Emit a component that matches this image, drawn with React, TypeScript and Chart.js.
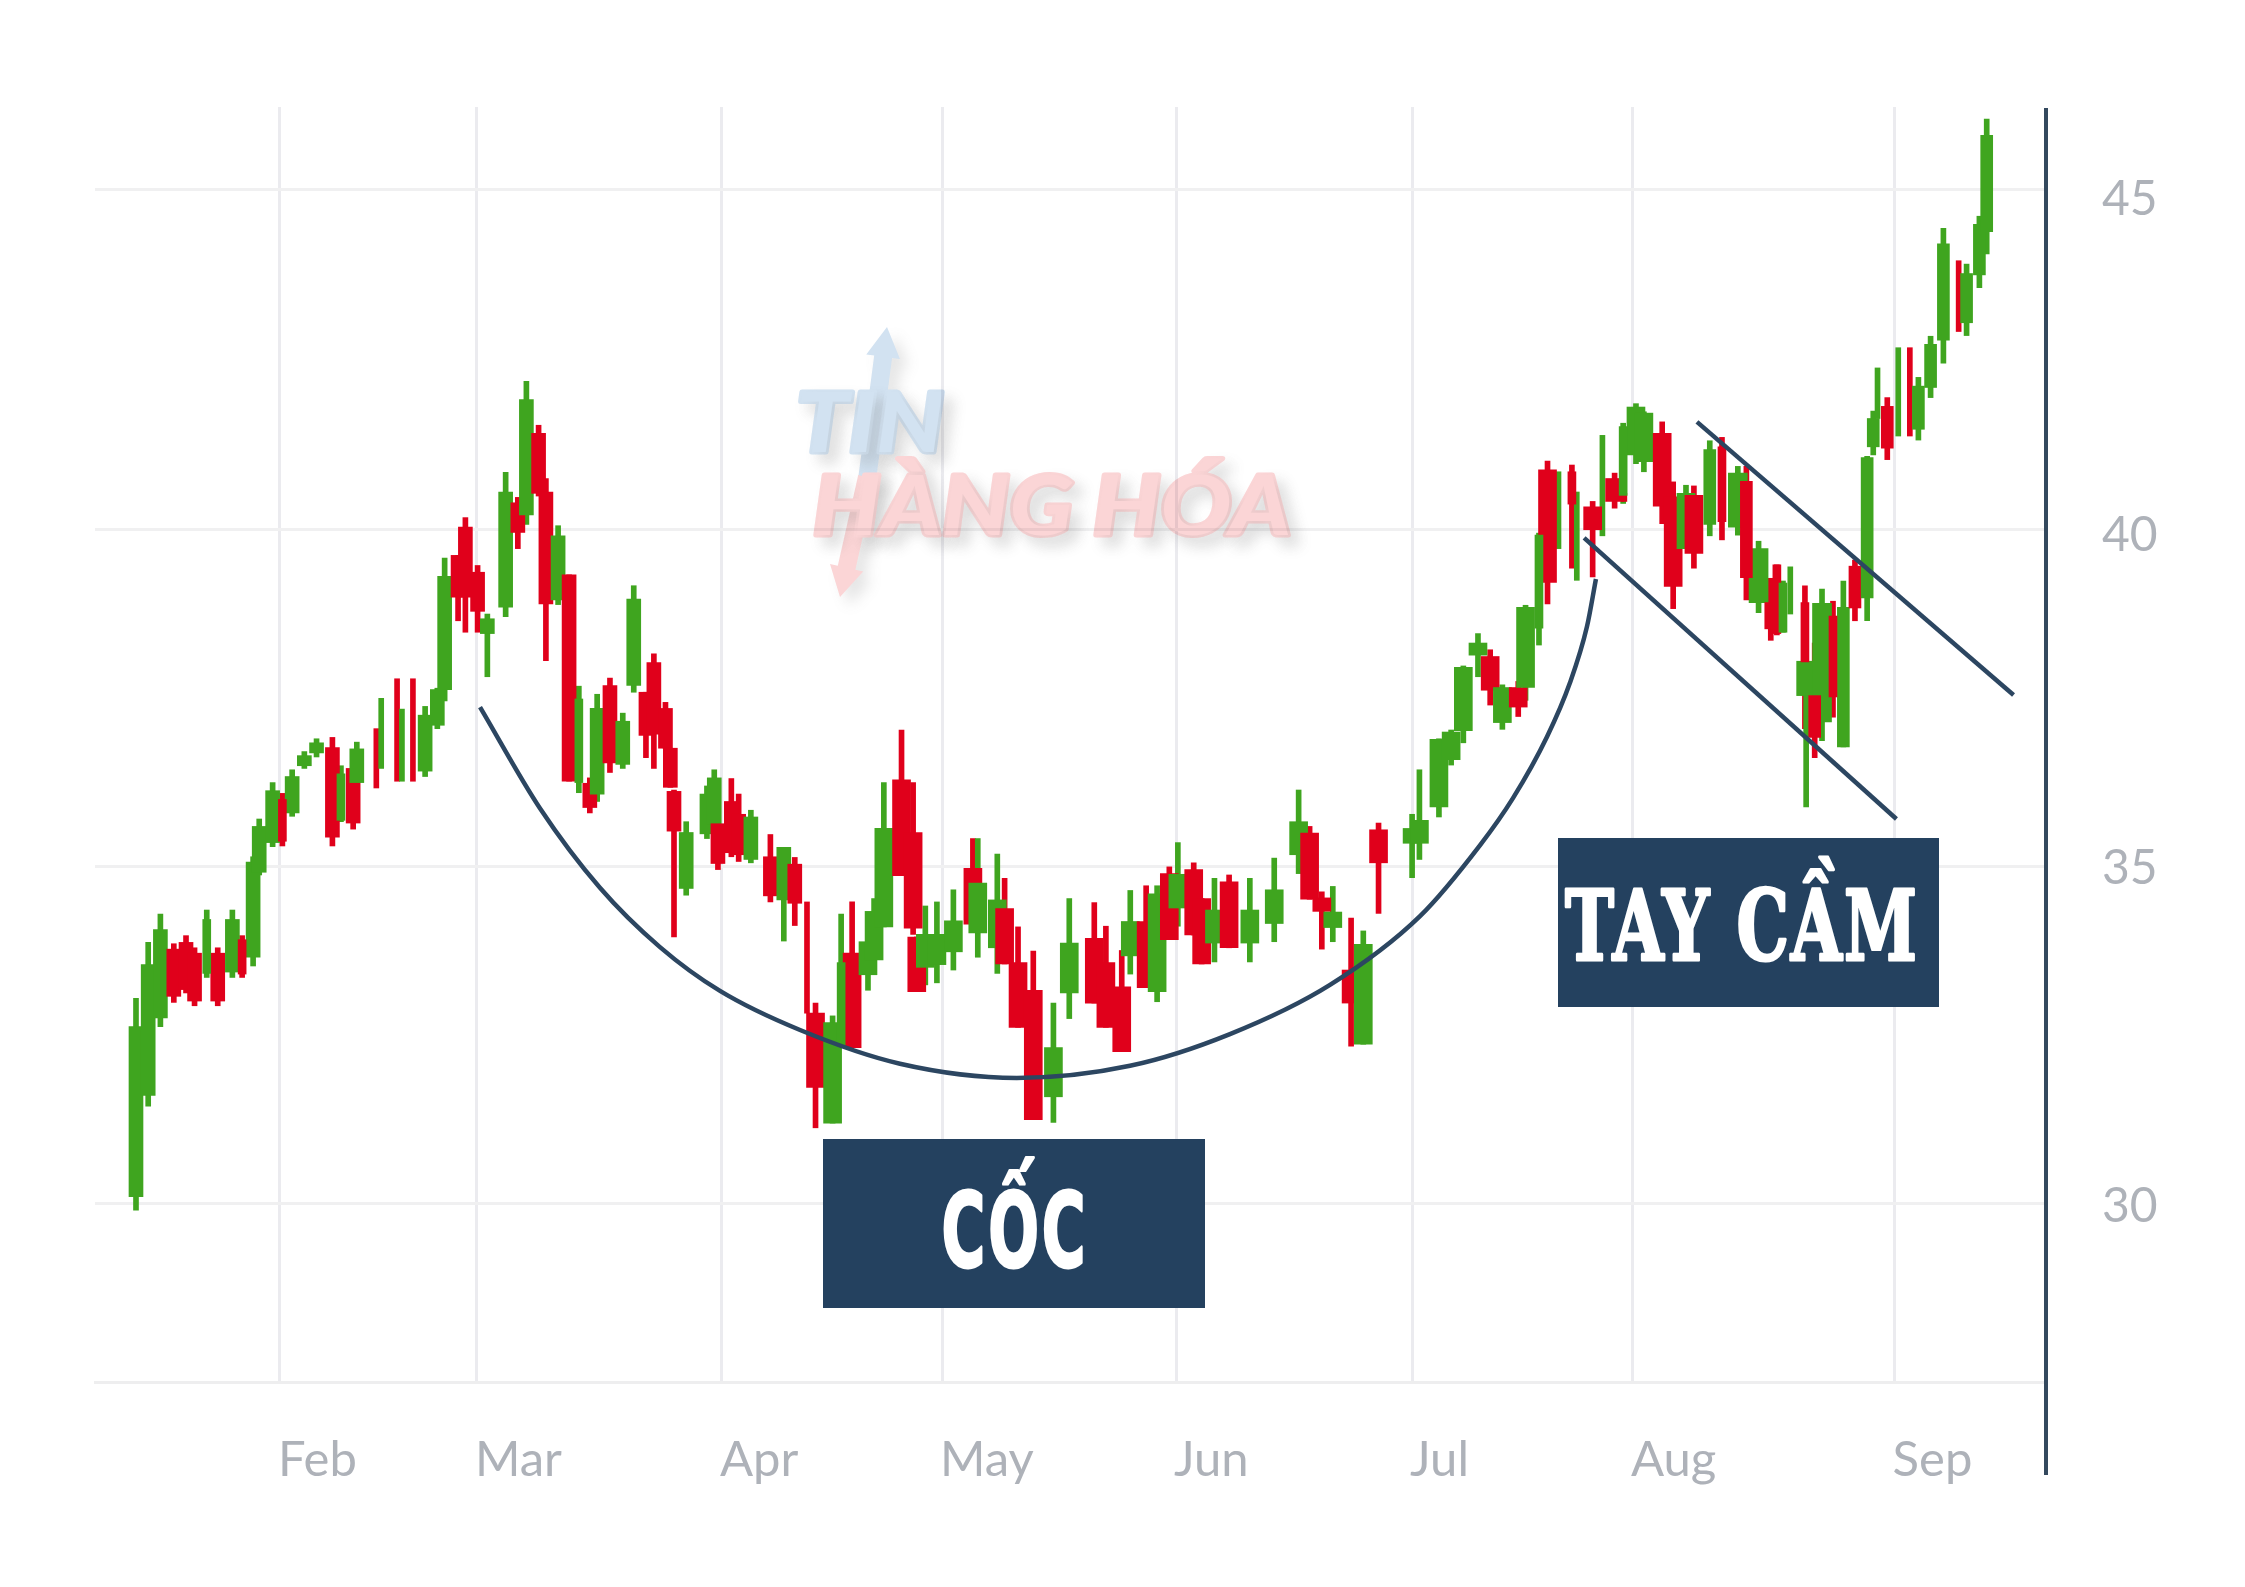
import { useEffect, useRef } from "react";
import { Chart, registerables } from "chart.js";

Chart.register(...registerables);

// x is in trading sessions counted from the first candle
const sessions = [
  0, 1, 2, 3.1, 4.1, 4.8, 5.8, 6.7, 7.9, 8.7,
  9.6, 10.1, 11.2, 12, 12.8, 13.8, 14.8, 16.1, 16.8, 17.8,
  18.1, 19.7, 20.1, 21.4, 21.8, 22.7, 23.7, 24.7, 25.3, 26.4,
  27, 28, 28.8, 30.3, 31.3, 32, 33, 33.6, 34.6, 35.5,
  36.3, 37.2, 37.8, 38.85, 39.9, 40.8, 41.8, 42.45, 43.4, 43.8,
  44.1, 45.1, 46.8, 47.4, 47.7, 48.8, 49.4, 50.4, 52, 53.1,
  54, 55, 55.7, 57.1, 57.8, 58.7, 60, 60.5, 61.3, 62.75,
  63.7, 64, 64.7, 65.65, 67, 68.6, 69, 70.6, 71.2, 72.3,
  73.55, 75.2, 76.5, 78.55, 79.5, 80.8, 81.5, 82.8, 83.7, 84.7,
  85.4, 86.7, 87.35, 88.4, 89.6, 91.3, 93.3, 95.3, 96.2, 97.2,
  98.1, 99.6, 100.6, 101.85, 104.6, 105.2, 106.3, 106.8, 107.8, 108.8,
  110, 111, 112, 113.3, 113.9, 115, 115.7, 116.6, 117.7, 118.1,
  119.4, 120.2, 121.2, 121.9, 122, 122.95, 123.6, 125.1, 126, 127.05,
  127.7, 129, 130, 131.3, 132, 133, 134, 134.5, 135, 135.6,
  136.8, 136.9, 137.6, 138.2, 139.1, 139.95, 140.9, 141.9, 142.4, 142.75,
  143.55, 144.45, 145.4, 146.1, 147.1, 148.15, 149.4, 150.05, 151.1, 151.7,
];

const highs = [
  33, 33.83, 34.25, 33.81, 33.93, 33.75, 34.31, 33.75, 34.31, 33.93,
  35.1, 35.66, 36.2, 36.04, 36.39, 36.66, 36.85, 36.87, 36.45, 36.5,
  36.8, 37, 37.45, 37.74, 37.29, 37.74, 37.33, 37.6, 39.53, 39.57,
  40.13, 39.42, 38.7, 40.8, 40.43, 42.15, 41.5, 40.71, 40.01, 39.28,
  37.63, 36.27, 37.51, 37.75, 37.23, 39.12, 37.54, 38.11, 37.39, 36.71,
  36.09, 35.62, 36.15, 36.39, 35.65, 36.26, 36.03, 35.79, 35.43, 35.24,
  35.09, 34.43, 32.93, 32.74, 34.25, 34.43, 34.06, 34.48, 36.2, 36.98,
  36.2, 33.91, 34.37, 34.43, 34.61, 35.37, 35.37, 35.14, 34.78, 34.06,
  33.7, 32.93, 34.48, 34.42, 34.07, 33.71, 34.6, 34.67, 34.67, 34.95,
  35.31, 35.01, 34.48, 34.78, 34.83, 34.78, 35.08, 36.09, 35.55, 34.58,
  34.66, 34.19, 34, 35.6, 35.73, 36.39, 36.55, 36.85, 36.98, 37.93,
  38.41, 38.17, 37.65, 37.7, 38.83, 39.9, 40.97, 40.81, 40.91, 40.51,
  40.37, 41.35, 40.79, 41.53, 40.49, 41.82, 41.7, 41.55, 40.66, 40.61,
  40.6, 41.27, 41.32, 40.89, 40.89, 39.78, 39.23, 39.43, 39.19, 39.4,
  39.12, 38, 38.27, 39.07, 38.89, 39.19, 39.5, 41.04, 41.71, 42.35,
  41.91, 42.65, 42.65, 42.21, 42.82, 44.42, 43.94, 43.89, 44.6, 46.04,
];

// null = the candle shows only its wick
const bodyTops = [
  32.58, 33.5, 34.02, 33.73, 33.83, 33.67, 34.17, 33.67, 34.17, 33.87,
  35.02, 35.55, 36.08, 35.95, 36.29, 36.6, 36.79, 36.72, 36.33, 36.41,
  36.7, null, null, null, null, null, 37.2, 37.58, 39.26, 39.57,
  39.99, 39.32, 38.63, 40.51, 40.35, 41.88, 41.38, 40.51, 39.86, 39.28,
  37.44, 36.19, 37.3, 37.64, 37.11, 38.92, 37.54, 37.98, 37.3, 36.71,
  36.07, 35.46, 36.03, 36.27, 35.59, 35.92, 35.73, 35.69, 35.1, 35.24,
  34.99, null, 32.78, 32.64, 33.53, 33.67, 33.84, 34.29, 35.52, 36.24,
  35.46, 33.91, 33.95, 33.95, 34.15, 34.93, 34.71, 34.46, 34.33, 33.53,
  33.12, 32.27, 33.82, 33.89, 33.53, 33.17, 34.14, 34.14, 34.55, 34.85,
  34.84, 34.91, 34.48, 34.31, 34.73, 34.31, 34.61, 35.62, 35.45, 34.49,
  34.28, 33.42, 33.8, 35.5, 35.52, 35.64, null, 36.84, 36.95, 37.91,
  38.27, 38.07, 37.61, 37.61, 38.8, 39.87, 40.84, null, 40.81, null,
  40.29, null, 40.71, 41.48, null, 41.77, 41.68, 41.38, 40.44, 40.49,
  40.46, 41.14, 41.18, 40.79, 40.67, 39.67, 38.87, 39.43, 39.16, null,
  38.87, 38, 37.49, 38.86, 38.67, 38.8, 39.41, 41.02, 41.6, null,
  41.78, null, null, 42.08, 42.7, 44.19, null, 43.75, 44.48, 45.8,
];

const bodyBottoms = [
  30.06, 31.56, 32.71, 33.03, 33.13, 32.96, 33.37, 32.96, 33.39, 33.36,
  33.61, 34.87, 35.31, 35.33, 35.75, 36.45, 36.64, 35.39, 35.64, 35.6,
  36.2, null, null, null, null, null, 36.37, 37.05, 37.58, 38.95,
  38.95, 38.74, 38.41, 38.8, 39.91, 40.17, 40.49, 38.85, 38.91, 36.22,
  36.2, 35.83, 36.03, 36.49, 36.47, 37.64, 36.9, 36.92, 36.71, 36.13,
  35.48, 34.63, 35.44, 35.58, 35, 35.16, 35.13, 35.06, 34.52, 34.46,
  34.41, null, 31.68, 31.15, 32.29, 32.27, 33.35, 33.57, 34.06, 34.82,
  34.04, 33.1, 33.46, 33.5, 33.69, 34.1, 33.97, 33.75, 33.51, 32.57,
  31.2, 31.54, 33.08, 32.93, 32.57, 32.21, 33.63, 33.16, 33.1, 33.87,
  34.34, 33.94, 33.51, 33.82, 33.75, 33.82, 34.11, 35.13, 34.47, 34.29,
  34.05, 32.93, 32.32, 35.01, 35.3, 35.3, null, 35.84, 36.54, 36.97,
  38.09, 37.57, 37.09, 37.32, 37.61, 38.49, 39.17, null, 40.33, null,
  39.95, null, 40.37, 40.46, null, 41.06, 40.96, 40.3, 39.11, 39.67,
  39.6, 40.03, 40.07, 39.99, 39.24, 38.87, 38.48, 38.41, 38.43, null,
  37.99, 37.49, 36.87, 37.1, 37.47, 36.73, 38.79, 38.94, 41.18, null,
  41.16, null, null, 41.44, 42.06, 42.76, null, 43.02, 43.73, 44.37,
];

const lows = [
  29.86, 31.4, 32.58, 32.94, 33.08, 32.89, 33.31, 32.89, 33.31, 33.31,
  33.48, 34.83, 35.25, 35.26, 35.7, 36.41, 36.58, 35.26, 35.62, 35.51,
  36.16, 36.12, 36.41, 36.22, 36.22, 36.22, 36.29, 37, 37.41, 38.6,
  38.43, 38.43, 37.77, 38.66, 39.67, 40.03, 40.45, 38.01, 38.84, 36.22,
  36.05, 35.75, 35.92, 36.35, 36.41, 37.54, 36.57, 36.41, 36.71, 36.13,
  33.91, 34.53, 35.37, 35.5, 34.91, 35.1, 35.03, 35.01, 34.43, 33.85,
  34.08, 32.78, 31.08, 31.15, 32.29, 32.27, 33.12, 33.5, 34.06, 34.82,
  33.95, 33.1, 33.2, 33.23, 33.42, 34.1, 33.61, 33.37, 33.51, 32.57,
  31.2, 31.16, 32.7, 32.93, 32.57, 32.21, 33.36, 33.16, 32.95, 33.87,
  34.07, 33.94, 33.51, 33.54, 33.75, 33.54, 33.84, 34.85, 34.47, 33.73,
  33.84, 32.29, 32.32, 34.26, 34.79, 35.06, 35.93, 35.69, 36.46, 36.79,
  37.77, 37.35, 36.99, 37.18, 37.42, 38.24, 38.85, 39.67, 39.38, 39.2,
  39.25, 39.86, 40.27, 40.34, 40.37, 40.93, 40.81, 40.04, 38.78, 39.67,
  39.38, 39.86, 39.8, 39.87, 38.91, 38.72, 38.31, 38.39, 38.43, 38.7,
  37, 35.84, 36.57, 36.82, 37.17, 36.73, 38.6, 38.6, 41.06, 41.6,
  40.99, 41.34, 41.34, 41.28, 41.91, 42.42, 42.89, 42.83, 43.54, 44.04,
];

const rising = [
  1, 1, 1, 0, 0, 0, 1, 0, 1, 0,
  1, 1, 1, 0, 1, 1, 1, 0, 1, 0,
  1, 0, 1, 0, 1, 0, 1, 1, 1, 0,
  0, 0, 1, 1, 0, 1, 0, 0, 1, 0,
  1, 0, 1, 0, 1, 1, 0, 0, 0, 0,
  0, 1, 1, 1, 0, 0, 0, 1, 0, 1,
  0, 0, 0, 1, 1, 0, 1, 1, 1, 0,
  0, 0, 1, 1, 1, 0, 1, 1, 0, 0,
  0, 1, 1, 0, 0, 0, 1, 0, 1, 0,
  1, 0, 0, 1, 0, 1, 1, 1, 0, 0,
  1, 0, 1, 0, 1, 1, 0, 1, 1, 1,
  1, 0, 1, 0, 1, 1, 0, 1, 0, 1,
  0, 1, 0, 1, 0, 1, 1, 0, 0, 1,
  0, 1, 0, 1, 0, 1, 0, 0, 1, 1,
  0, 1, 0, 1, 0, 1, 0, 1, 1, 1,
  0, 1, 0, 1, 1, 1, 0, 1, 1, 1,
];

// sessions whose candle is visibly slimmer or fatter than its neighbours
const slimCandles = [5.8, 8.7, 12, 16.8, 36.3, 57.8, 115, 117.7, 121.9, 130, 134.5, 135, 136.8, 139.1];
const fatCandles = [131.3, 133, 136.9, 138.2];

const monthLabels = ["Feb", "Mar", "Apr", "May", "Jun", "Jul", "Aug", "Sep"];
const monthSessions = [11.8, 27.95, 48.03, 66.07, 85.25, 104.6, 122.7, 144.15];

const priceLabels = ["45", "40", "35", "30"];
const gridLevels = [45, 39.95, 34.95, 29.95];
const labelLevels = [44.85, 39.87, 34.93, 29.92];

// cup arc and the two handle channel lines, as [session, price]
const cupArc = [
  [28.2, 37.32], [33.11, 35.82], [38.03, 34.64], [42.95, 33.76], [47.87, 33.11],
  [54.43, 32.53], [62.62, 32.03], [72.2, 31.82], [81.48, 32], [89.67, 32.47],
  [97.87, 33.2], [105.25, 34.22], [110.16, 35.27], [112.87, 35.97], [115.66, 36.88],
  [117.54, 37.68], [118.93, 38.51], [119.67, 39.22],
];
const handleUpper = [[127.95, 41.55], [153.9, 37.5]];
const handleLower = [[118.7, 39.83], [144.3, 35.66]];

const GREEN = "#3fa51f";
const RED = "#e0001b";
const NAVY = "#24415f";
const LINE = "#2c4661";

const toPoints = (pts: number[][]) => pts.map(([x, y]) => ({ x, y }));
const candleColor = (i: number) => (rising[i] ? GREEN : RED);

const wickData = sessions.map((x, i) => ({ x, y: [lows[i], highs[i]] }));
const wickColors = sessions.map((_, i) => candleColor(i));

const bodyWidth = (i: number) => {
  const s = sessions[i];
  if (slimCandles.includes(s)) return 8;
  if (fatCandles.includes(s)) return 19;
  if (s < 55) return 14;
  return s < 128.5 ? 18 : 12;
};

const bodyDataset = (barThickness: number) => {
  const idx = sessions
    .map((_, i) => i)
    .filter((i) => bodyTops[i] !== null && bodyWidth(i) === barThickness);
  return {
    type: "bar",
    data: idx.map((i) => ({ x: sessions[i], y: [bodyBottoms[i], bodyTops[i]] })),
    backgroundColor: idx.map(candleColor),
    barThickness,
    grouped: false,
    order: 1,
  };
};

const lineDataset = (pts: number[][]) => ({
  type: "line",
  data: toPoints(pts),
  borderColor: LINE,
  borderWidth: 4.5,
  pointRadius: 0,
  cubicInterpolationMode: "monotone",
  order: 0,
});

const fitText = (
  ctx: any,
  text: string,
  cx: number,
  baseline: number,
  width: number,
  fatten = 0,
) => {
  const w = ctx.measureText(text).width;
  ctx.save();
  ctx.translate(cx, baseline);
  ctx.scale(width / w, 1);
  ctx.textAlign = "center";
  ctx.textBaseline = "alphabetic";
  ctx.lineJoin = "round";
  if (fatten) {
    ctx.lineWidth = fatten;
    ctx.strokeStyle = ctx.fillStyle;
    ctx.strokeText(text, 0, 0);
  }
  ctx.fillText(text, 0, 0);
  ctx.restore();
};

const arrow = (ctx: any, x0: number, y0: number, x1: number, y1: number) => {
  const a = Math.atan2(y1 - y0, x1 - x0);
  const len = Math.hypot(x1 - x0, y1 - y0);
  ctx.save();
  ctx.translate(x0, y0);
  ctx.rotate(a);
  ctx.beginPath();
  ctx.moveTo(0, -9);
  ctx.lineTo(len - 30, -9);
  ctx.lineTo(len - 30, -17);
  ctx.lineTo(len, 0);
  ctx.lineTo(len - 30, 17);
  ctx.lineTo(len - 30, 9);
  ctx.lineTo(0, 9);
  ctx.closePath();
  ctx.fill();
  ctx.restore();
};

const watermark = {
  id: "watermark",
  beforeDatasetsDraw(chart: Chart) {
    // drawn apart and multiplied in, so the grid shows through the logo
    const layer = document.createElement("canvas");
    layer.width = chart.width;
    layer.height = chart.height;
    const c = layer.getContext("2d") as any;
    c.shadowColor = "rgba(110,110,110,0.18)";
    c.shadowBlur = 14;
    c.shadowOffsetX = 9;
    c.shadowOffsetY = 9;
    c.font = 'italic 900 82px Lato, "Noto Sans"';
    c.fillStyle = "#d2e2f1";
    arrow(c, 867, 480, 887, 327);
    fitText(c, "TIN", 870, 452, 148, 5);
    c.fillStyle = "#fbd5d6";
    arrow(c, 867, 477, 840, 597);
    fitText(c, "HÀNG HÓA", 1052, 535, 478, 5);
    const ctx = chart.ctx;
    ctx.save();
    ctx.globalCompositeOperation = "multiply";
    ctx.drawImage(layer, 0, 0);
    ctx.restore();
  },
};

const overlay = {
  id: "overlay",
  afterDatasetsDraw(chart: Chart) {
    const ctx = chart.ctx as any;
    ctx.save();
    // value axis runs past the plot, down beside the month labels
    ctx.strokeStyle = "#34495e";
    ctx.lineWidth = 4;
    ctx.beginPath();
    ctx.moveTo(2046, 108);
    ctx.lineTo(2046, 1475);
    ctx.stroke();

    ctx.fillStyle = NAVY;
    ctx.fillRect(823, 1139, 382, 169);
    ctx.fillRect(1558, 838, 381, 169);
    ctx.fillStyle = "#ffffff";
    ctx.letterSpacing = "5px";
    ctx.font = 'bold 104px "DejaVu Sans"';
    fitText(ctx, "CỐC", 1015, 1267, 147, 3);
    ctx.letterSpacing = "3px";
    ctx.font = 'bold 97px "DejaVu Serif"';
    fitText(ctx, "TAY CẦM", 1742, 960, 354, 3);
    ctx.restore();
  },
};

export default function App() {
  const canvasRef = useRef<HTMLCanvasElement>(null);

  useEffect(() => {
    if (!canvasRef.current) return;
    document.body.style.margin = "0";

    const myChart = new Chart(canvasRef.current, {
      type: "bar",
      data: {
        datasets: [
          lineDataset(cupArc),
          lineDataset(handleUpper),
          lineDataset(handleLower),
          bodyDataset(8),
          bodyDataset(12),
          bodyDataset(19),
          bodyDataset(18),
          bodyDataset(14),
          {
            type: "bar",
            data: wickData,
            backgroundColor: wickColors,
            barThickness: 5,
            grouped: false,
            order: 2,
          },
        ] as any,
      },
      plugins: [watermark, overlay],
      options: {
        animation: false,
        responsive: false,
        devicePixelRatio: 1,
        layout: { padding: { left: 95, top: 107, right: 0, bottom: 0 } },
        plugins: { legend: { display: false }, tooltip: { enabled: false } },
        scales: {
          x: {
            type: "linear",
            min: -3.36,
            max: 156.56,
            offset: false,
            afterBuildTicks: (scale: any) => {
              scale.ticks = monthSessions.map((value) => ({ value }));
            },
            afterFit: (scale: any) => {
              scale.height = 205;
            },
            grid: { color: "#ebebef", lineWidth: 3, offset: false, drawTicks: false },
            border: { display: true, color: "#eeeeef", width: 3 },
            ticks: {
              autoSkip: false,
              maxRotation: 0,
              align: "start",
              padding: 49,
              labelOffset: -2,
              color: "#aeb2b9",
              font: { family: "Lato", size: 49 },
              callback: (value: any) => monthLabels[monthSessions.indexOf(value)],
            },
          },
          y: {
            type: "linear",
            position: "right",
            min: 27.31,
            max: 46.22,
            afterBuildTicks: (scale: any) => {
              scale.ticks = gridLevels.map((value) => ({ value }));
            },
            afterFit: (scale: any) => {
              scale.width = 0;
            },
            grid: { color: "#f0f0f1", lineWidth: 3, drawTicks: false },
            border: { display: false },
            ticks: { display: false },
          },
          // the price labels sit a little off their grid lines in the picture
          priceAxis: {
            type: "linear",
            axis: "y",
            position: "right",
            min: 27.31,
            max: 46.22,
            afterBuildTicks: (scale: any) => {
              scale.ticks = labelLevels.map((value) => ({ value }));
            },
            afterFit: (scale: any) => {
              scale.width = 199;
            },
            grid: { display: false, drawTicks: false },
            border: { display: false },
            ticks: {
              padding: 56,
              color: "#aeb2b9",
              font: { family: "Lato", size: 48 },
              callback: (value: any) => priceLabels[labelLevels.indexOf(value)],
            },
          },
        },
      },
    } as any);

    return () => {
      myChart.destroy();
    };
  }, []);

  return <canvas ref={canvasRef} width={2245} height={1587} style={{ display: "block" }} />;
}
